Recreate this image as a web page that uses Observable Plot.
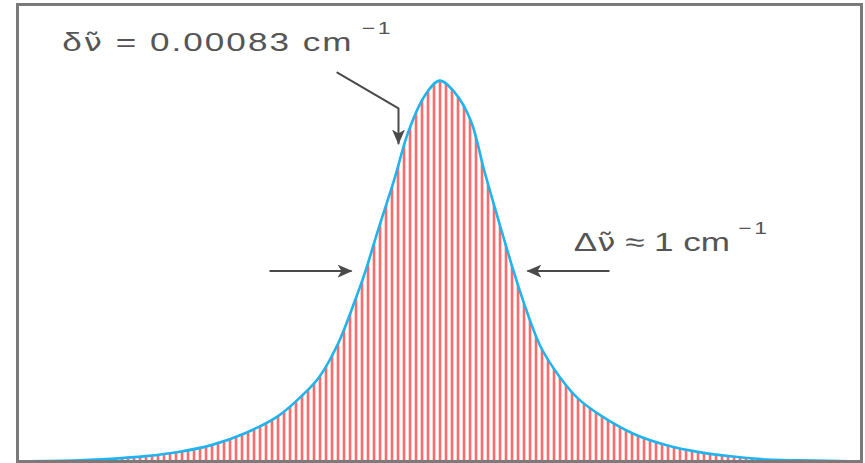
<!DOCTYPE html>
<html>
<head>
<meta charset="utf-8">
<script src="https://cdn.jsdelivr.net/npm/d3@7"></script>
<script src="https://cdn.jsdelivr.net/npm/@observablehq/plot@0.6"></script>
<style>
  body { margin: 0; background: #fff; }
  #chart svg { display: block; }
</style>
</head>
<body>
<div id="chart"></div>
<script>
// Band contour: offset from band centre (cm⁻¹) and relative intensity
const wavenumber = [-2.83, -2.42, -2.20, -1.97, -1.75, -1.53, -1.30, -1.08, -0.93, -0.81, -0.68, -0.56, -0.50, -0.41, -0.30, -0.21, -0.10, 0.00,
                    0.10, 0.21, 0.30, 0.41, 0.50, 0.56, 0.68, 0.81, 0.93, 1.08, 1.30, 1.53, 1.75, 1.97, 2.20, 2.42, 2.83];
const intensity  = [0.000, 0.003, 0.007, 0.014, 0.025, 0.043, 0.075, 0.120, 0.170, 0.220, 0.310, 0.430, 0.496, 0.610, 0.745, 0.865, 0.960, 1.000,
                    0.970, 0.895, 0.764, 0.614, 0.496, 0.423, 0.300, 0.220, 0.165, 0.121, 0.073, 0.042, 0.024, 0.013, 0.005, 0.003, 0.000];

// Annotation values
const nuTilde = "ν\u0303";
const lineSpacingLabel = `δ${nuTilde} = 0.00083 cm`;
const bandWidthLabel = `Δ${nuTilde} ≈ 1 cm`;
const unitExponent = "−1";
const bandWidth = 1;     // cm⁻¹, full width at half maximum
const halfMaximum = 0.5;

const band = wavenumber.map((w, i) => ({w, i: intensity[i]}));

const ink = "#4a4a4a";
const textColor = "#555";
const labelFont = "Liberation Sans";

const chart = Plot.plot({
  width: 865,
  height: 463,
  marginLeft: 17,
  marginRight: 4,
  marginTop: 4,
  marginBottom: 2,
  x: {domain: [-2.83, 2.83], axis: null},
  y: {domain: [0, 1.2], axis: null},
  marks: [
    // individual rotational lines filling the band envelope
    Plot.areaY(band, {x: "w", y: "i", curve: "catmull-rom", fill: "url(#rot-lines)"}),
    // band envelope
    Plot.line(band, {x: "w", y: "i", curve: "catmull-rom", stroke: "#1fb4ee", strokeWidth: 2.6}),
    // arrow to a single line
    Plot.line([{x: -0.685, y: 1.021}, {x: -0.275, y: 0.927}, {x: -0.275, y: 0.835}],
      {x: "x", y: "y", stroke: ink, strokeWidth: 2, ariaDescription: "arrow"}),
    // arrows marking the half-maximum width
    Plot.link([-1, 1], {
      x1: d => d * (bandWidth / 2 + 0.64),
      x2: d => d * (bandWidth / 2 + 0.09),
      y1: halfMaximum, y2: halfMaximum,
      stroke: ink, strokeWidth: 2, ariaDescription: "arrow"
    }),
    Plot.text([lineSpacingLabel], {x: -2.53, y: 1.079, text: d => d, textAnchor: "start", lineAnchor: "bottom",
      fontSize: 26, fill: textColor, fontFamily: labelFont, ariaDescription: "note-a"}),
    Plot.text([bandWidthLabel], {x: 0.90, y: 0.554, text: d => d, textAnchor: "start", lineAnchor: "bottom",
      fontSize: 26, fill: textColor, fontFamily: labelFont, ariaDescription: "note-b"}),
    Plot.frame({stroke: "#7a7a7a", strokeWidth: 3})
  ]
});

document.getElementById("chart").appendChild(chart);

const svg = d3.select(chart);
const defs = svg.insert("defs", ":first-child");

// vertical stripe pattern for the rotational lines
const pat = defs.append("pattern")
  .attr("id", "rot-lines")
  .attr("patternUnits", "userSpaceOnUse")
  .attr("width", 6).attr("height", 12);
pat.append("rect").attr("x", 0).attr("y", 0).attr("width", 4).attr("height", 12).attr("fill", "#ffd2d2");
pat.append("rect").attr("x", 1).attr("y", 0).attr("width", 2).attr("height", 12).attr("fill", "#ff6a6a");

// filled arrowhead
const head = defs.append("marker")
  .attr("id", "arrow-head")
  .attr("markerUnits", "userSpaceOnUse")
  .attr("viewBox", "0 0 15 13")
  .attr("markerWidth", 15).attr("markerHeight", 13)
  .attr("refX", 14).attr("refY", 6.5)
  .attr("orient", "auto");
head.append("path").attr("d", "M0,0 L15,6.5 L0,13 L4,6.5 Z").attr("fill", ink);

svg.selectAll('g[aria-description="arrow"] path, g[aria-description="arrow"] line')
  .attr("marker-end", "url(#arrow-head)");

// wide lettering, a font with a proper combining tilde for ν̃, and unit exponents
function styleLabel(selector, tracking, exponentGap) {
  svg.selectAll(selector).each(function() {
    const t = this.getAttribute("transform") || "";
    const parts = this.textContent.split(nuTilde);
    this.textContent = "";
    const label = d3.select(this)
      .attr("transform", t + " scale(1.35,1)")
      .attr("letter-spacing", tracking);
    this.appendChild(document.createTextNode(parts[0]));
    label.append("tspan").attr("font-family", "DejaVu Sans").attr("font-size", 24).text(nuTilde);
    this.appendChild(document.createTextNode(parts[1]));
    label.append("tspan")
      .attr("dx", exponentGap)
      .attr("dy", -17)
      .attr("font-size", 17)
      .attr("letter-spacing", 2)
      .text(unitExponent);
  });
}
styleLabel('g[aria-description="note-a"] text', 1.5, 6);
styleLabel('g[aria-description="note-b"] text', 0, 6);
</script>
</body>
</html>
